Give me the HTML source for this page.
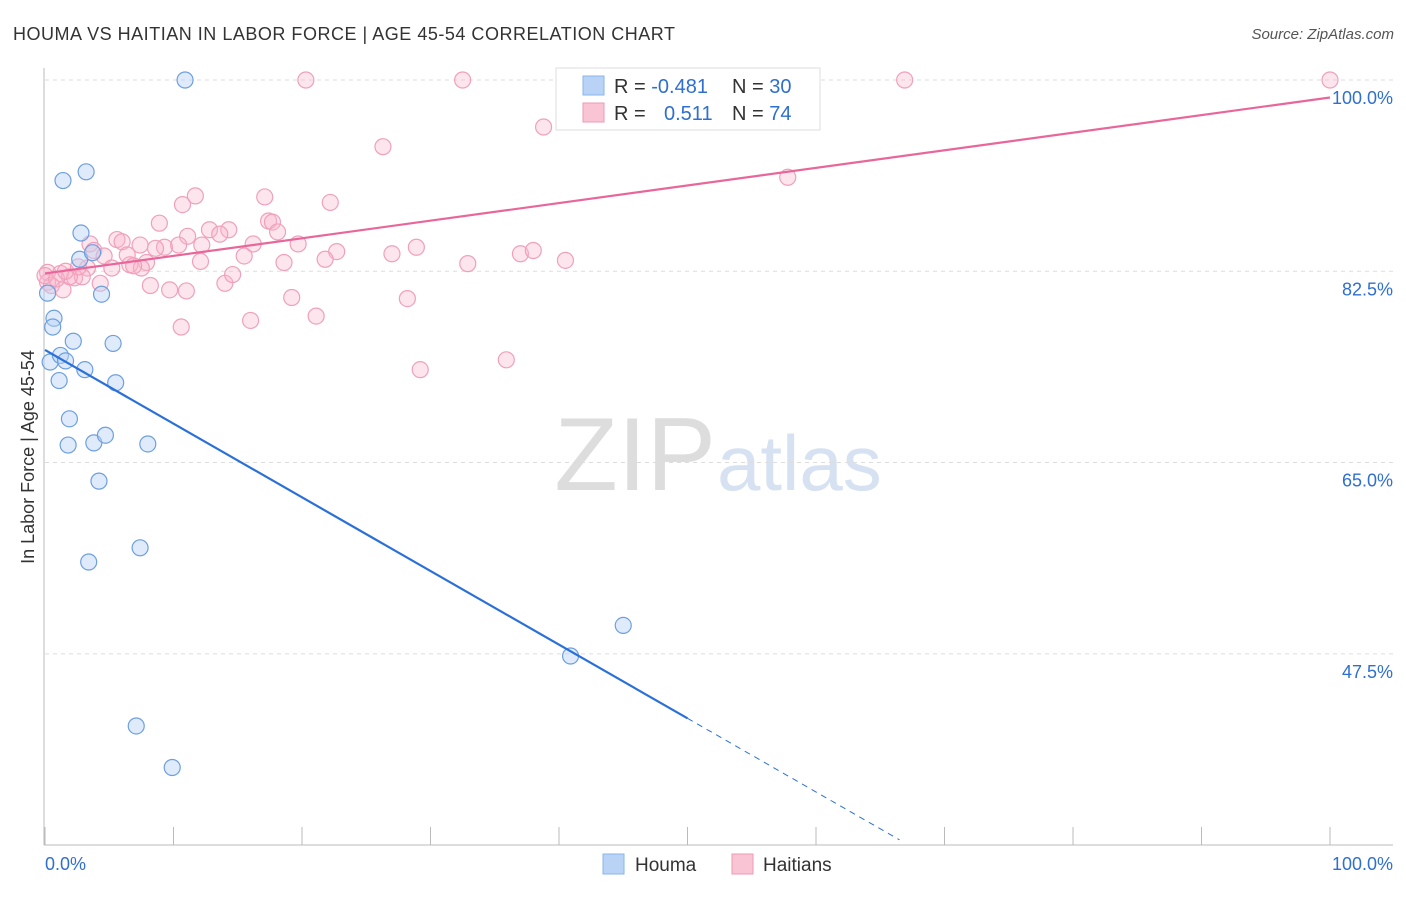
<!DOCTYPE html>
<html><head><meta charset="utf-8"><style>
body{margin:0;background:#fff;font-family:"Liberation Sans",sans-serif;}
svg text{font-family:"Liberation Sans",sans-serif;}
</style></head><body>
<svg id="chart" width="1406" height="892" xmlns="http://www.w3.org/2000/svg">
<text x="13" y="40" font-size="18" fill="#333" textLength="662" lengthAdjust="spacing">HOUMA VS HAITIAN IN LABOR FORCE | AGE 45-54 CORRELATION CHART</text>
<text x="1394" y="39" font-size="15" fill="#555" font-style="italic" text-anchor="end">Source: ZipAtlas.com</text>
<text x="716" y="490" font-size="104" fill="#ddd" text-anchor="end" font-family="Liberation Serif">ZIP</text>
<text x="717" y="490" font-size="78" fill="#d6e2f2">atlas</text>
<g id="grid"></g>
<g id="axes"></g>
<g id="marks"></g>
<text transform="translate(34,457) rotate(-90)" font-size="18" fill="#333" text-anchor="middle">In Labor Force | Age 45-54</text>
<g>
<rect x="556" y="68" width="264" height="62" fill="#fff" stroke="#ddd"/>
<rect x="583" y="76" width="21" height="19" fill="#b8d3f5" stroke="#8ab4ea"/>
<rect x="583" y="103" width="21" height="19" fill="#f9c4d4" stroke="#ef9ab5"/>
<text x="614" y="93" font-size="20" fill="#333">R = <tspan fill="#2f6fcf">-0.481</tspan></text>
<text x="732" y="93" font-size="20" fill="#333">N = <tspan fill="#2f6fcf">30</tspan></text>
<text x="614" y="120" font-size="20" fill="#333">R = </text>
<text x="664" y="120" font-size="20" fill="#2f6fcf">0.511</text>
<text x="732" y="120" font-size="20" fill="#333">N = <tspan fill="#2f6fcf">74</tspan></text>
</g>
<g>
<rect x="603" y="854" width="21" height="20" fill="#b8d3f5" stroke="#8ab4ea"/>
<text x="635" y="871" font-size="19" fill="#333">Houma</text>
<rect x="732" y="854" width="21" height="20" fill="#f9c4d4" stroke="#ef9ab5"/>
<text x="763" y="871" font-size="19" fill="#333">Haitians</text>
</g>
</svg>
<script>
const yTicks=[100,82.5,65,47.5];
const yTickLabels=["100.0%","82.5%","65.0%","47.5%"];
const xTicks=[0,10,20,30,40,50,60,70,80,90,100];
const houmaX=[10.9,3.2,1.4,2.8,2.7,3.7,4.4,0.2,0.7,0.6,2.2,5.3,0.4,1.2,1.6,3.1,1.1,5.5,1.9,1.8,3.8,4.7,8.0,4.2,3.4,7.4,45.0,40.9,7.1,9.9];
const houmaY=[100,91.6,90.8,86.0,83.6,84.2,80.4,80.5,78.2,77.4,76.1,75.9,74.2,74.8,74.3,73.5,72.5,72.3,69.0,66.6,66.8,67.5,66.7,63.3,55.9,57.2,50.1,47.3,40.9,37.1];
const haitiX=[20.3,32.5,66.9,100,38.8,26.3,57.8,11.7,17.1,10.7,22.2,8.9,17.4,17.7,12.8,14.3,18.1,11.1,13.6,5.6,6.0,3.5,7.4,9.3,10.4,12.2,16.2,19.7,3.8,8.6,28.9,22.7,27.0,37.0,38.0,40.5,12.1,7.9,15.5,18.6,21.8,32.9,4.6,5.2,6.6,7.5,6.4,6.9,0.2,1.2,2.3,0.2,0.5,1.4,3.3,2.9,1.9,4.3,8.2,9.7,11.0,14.0,14.6,19.2,28.2,10.6,16.0,21.1,29.2,35.9,0,0.9,1.6,2.6];
const haitiY=[100,100,100,100,95.7,93.9,91.1,89.4,89.3,88.6,88.8,86.9,87.1,87.0,86.3,86.3,86.1,85.7,85.9,85.4,85.2,85.0,84.9,84.7,84.9,84.9,85.0,85.0,84.4,84.6,84.7,84.3,84.1,84.1,84.4,83.5,83.4,83.3,83.9,83.3,83.6,83.2,83.9,82.8,83.1,82.8,84.0,83.0,82.4,82.3,81.9,81.5,81.2,80.8,82.8,82.0,82.0,81.4,81.2,80.8,80.7,81.4,82.2,80.1,80.0,77.4,78.0,78.4,73.5,74.4,82.1,81.8,82.5,82.9];
const houmaTrend=[75.3,41.6];
const houmaDashEnd=66.5;
const haitiTrend=[82.3,98.4];
const NS="http://www.w3.org/2000/svg";
const X=v=>45+v*12.85;
const Y=v=>80+(100-v)*10.93;
function mk(p,tag,at){const e=document.createElementNS(NS,tag);for(const k in at)e.setAttribute(k,at[k]);document.getElementById(p).appendChild(e);return e;}
yTicks.forEach((t,i)=>{
 const l=mk('grid','line',{x1:45,x2:1393,y1:Y(t),y2:Y(t),stroke:'#ddd','stroke-dasharray':'4,4'});
 
 
 const tx=mk('grid','text',{x:1393,y:Y(t)+24,'font-size':18,fill:'#2f6fcf','text-anchor':'end'});
 tx.textContent=yTickLabels[i];
 
 
});
mk('axes','line',{x1:44,x2:44,y1:68,y2:845,stroke:'#bbb'});
mk('axes','line',{x1:44,x2:1393,y1:845,y2:845,stroke:'#bbb'});
xTicks.forEach(t=>{const l=mk('axes','line',{x1:X(t),x2:X(t),y1:827,y2:845,stroke:'#bbb'});
 
 });
let a=mk('axes','text',{x:45,y:870,'font-size':18,fill:'#2f6fcf'});a.textContent='0.0%';

a=mk('axes','text',{x:1393,y:870,'font-size':18,fill:'#2f6fcf','text-anchor':'end'});a.textContent='100.0%';

haitiX.forEach((x,i)=>{const c=mk('marks','circle',{cx:X(x),cy:Y(haitiY[i]),r:8,fill:'rgba(249,180,203,0.35)',stroke:'#f0a0ba','stroke-width':1.2});
 
 });
houmaX.forEach((x,i)=>{const c=mk('marks','circle',{cx:X(x),cy:Y(houmaY[i]),r:8,fill:'rgba(184,211,245,0.45)',stroke:'#6d9fe0','stroke-width':1.2});
 
 });
let t=mk('marks','line',{x1:X(0),y1:Y(haitiTrend[0]),x2:X(100),y2:Y(haitiTrend[1]),stroke:'#e8679a','stroke-width':2.2});


t=mk('marks','line',{x1:X(0),y1:Y(houmaTrend[0]),x2:X(50),y2:Y(houmaTrend[1]),stroke:'#2a70d8','stroke-width':2.2});


const slope=(houmaTrend[1]-houmaTrend[0])/50;
t=mk('marks','line',{x1:X(50),y1:Y(houmaTrend[1]),x2:X(houmaDashEnd),y2:Y(houmaTrend[0]+slope*houmaDashEnd),stroke:'#2a70d8','stroke-width':1,'stroke-dasharray':'6,5'});


</script>
</body></html>
